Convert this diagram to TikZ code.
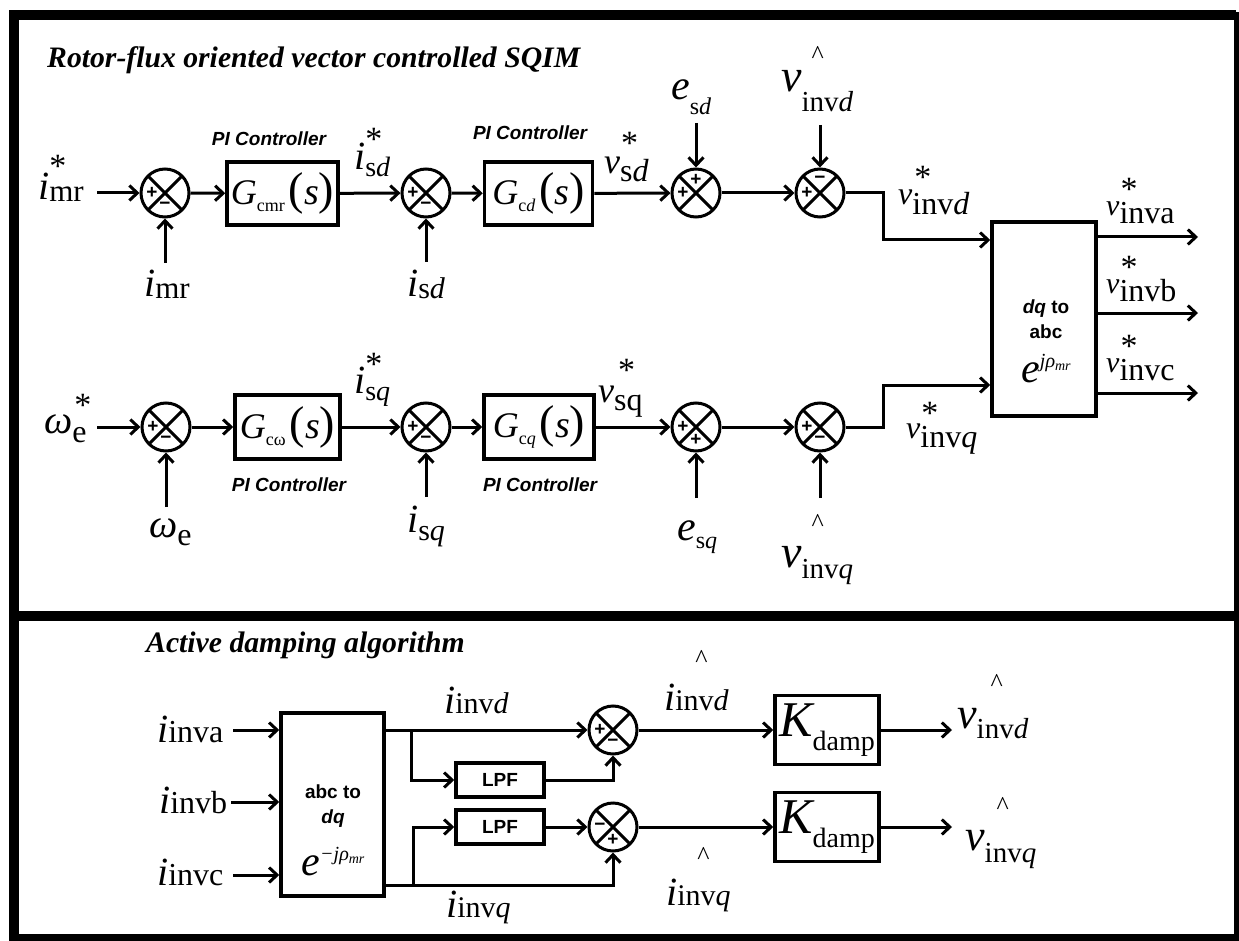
\documentclass[tikz,border=0pt]{standalone}
\usepackage{fontspec}
\setmainfont{Liberation Serif}
\newfontfamily\arialf{Liberation Sans}
\usetikzlibrary{arrows.meta,calc}
\newcommand\Sg[6]{{\fontsize{#1}{#1}\selectfont\itshape #2}#6\raisebox{-#5}{\fontsize{#3}{#3}\selectfont #4}}
\newcommand\OvMk[3]{\makebox[0pt][l]{\hspace*{#1}\raisebox{#2}{#3}}}
\newcommand\Astm{\fontsize{34}{34}\selectfont *}
\newcommand\Hatm{\fontsize{26}{26}\selectfont\textasciicircum}
\newcommand\Gs[1]{{\fontsize{36}{36}\selectfont\itshape G}\raisebox{-7pt}{\fontsize{18}{18}\selectfont #1}\hspace{4pt}{\fontsize{46}{46}\selectfont(}{\fontsize{38}{38}\selectfont\itshape s}{\fontsize{46}{46}\selectfont)}}
\newcommand\Expo[1]{{\fontsize{42}{42}\selectfont\itshape e}\raisebox{15pt}{\fontsize{20}{20}\selectfont\itshape #1ρ\raisebox{-3pt}{\fontsize{14}{14}\selectfont mr}}}
\newcommand\Kd{{\fontsize{50}{50}\selectfont\itshape K}\raisebox{-14pt}{\fontsize{28}{28}\selectfont damp}}
\begin{document}
\begin{tikzpicture}[x=1pt,y=-1pt,
  conn/.style={line width=3pt},
  arr/.style={line width=3pt,-{Straight Barb[length=8pt,width=15pt]}},
  sumj/.style={circle,draw,line width=3pt,minimum size=48pt,inner sep=0pt,
    path picture={\draw[line width=3pt] (path picture bounding box.north west)--(path picture bounding box.south east) (path picture bounding box.north east)--(path picture bounding box.south west);}},
  blk/.style={draw,line width=3.5pt,inner sep=0pt},
  sgn/.style={inner sep=0pt,font=\arialf\bfseries\fontsize{19}{19}\selectfont},
  pict/.style={inner sep=0pt,anchor=base,font=\arialf\bfseries\itshape\fontsize{19}{19}\selectfont},
  lab/.style={inner sep=0pt,anchor=base west},
  ttl/.style={inner sep=0pt,anchor=base west,font=\fontsize{29.7}{30}\selectfont\bfseries\itshape},
  frm/.style={line width=10pt}
]
\useasboundingbox (0,0) rectangle (1239,941);
% frame
\draw[frm] (14,941) -- (14,15) -- (1236,15);
\draw[line width=5pt] (1236,12) -- (1236,941);
\draw[line width=7pt] (10,937.5) -- (1239,937.5);
\draw[frm] (10,616) -- (1239,616);

% titles
\node[ttl] (t1) at (47,68) {Rotor-flux oriented vector controlled SQIM};
\node[ttl] (t2) at (146,652) {Active damping algorithm};

% d row
\node[sumj] (s1) at (165,193) {};
\node[blk,minimum width=111pt,minimum height=63pt] (b1) at (282.5,193.5) {\Gs{cmr}};
\node[sumj] (s2) at (426,193) {};
\node[blk,minimum width=108pt,minimum height=63pt] (b2) at (538.5,193.5) {\Gs{c\textit{d}}};
\node[sumj] (s3) at (696,193) {};
\node[sumj] (s4) at (820,193) {};
% q row
\node[sumj] (s5) at (166,427) {};
\node[blk,minimum width=105pt,minimum height=64pt] (b3) at (287.5,427) {\Gs{cω}};
\node[sumj] (s6) at (426,427) {};
\node[blk,minimum width=110pt,minimum height=64pt] (b4) at (539,427) {\Gs{c\textit{q}}};
\node[sumj] (s7) at (696,427) {};
\node[sumj] (s8) at (820,427) {};
% dq to abc
\node[blk,minimum width=104pt,minimum height=194pt] (dq) at (1044,319) {};
\node[inner sep=0pt,anchor=base] (dqt) at (1046,313) {\fontsize{19}{25}\selectfont\begin{tabular}[t]{@{}c@{}}\arialf\bfseries\textit{dq} to\\ \arialf\bfseries abc\\[9pt] \Expo{j}\end{tabular}};

% signs
\node[sgn] at ($(s1)+(-13,0)$) {+}; \node[sgn] at ($(s1)+(0,13)$) {−};
\node[sgn] at ($(s2)+(-13,0)$) {+}; \node[sgn] at ($(s2)+(0,13)$) {−};
\node[sgn] at ($(s3)+(-13,0)$) {+}; \node[sgn] at ($(s3)+(0,-13)$) {+};
\node[sgn] at ($(s4)+(-13,0)$) {+}; \node[sgn] at ($(s4)+(0,-13)$) {−};
\node[sgn] at ($(s5)+(-13,0)$) {+}; \node[sgn] at ($(s5)+(0,13)$) {−};
\node[sgn] at ($(s6)+(-13,0)$) {+}; \node[sgn] at ($(s6)+(0,13)$) {−};
\node[sgn] at ($(s7)+(-13,0)$) {+}; \node[sgn] at ($(s7)+(0,13)$) {+};
\node[sgn] at ($(s8)+(-13,0)$) {+}; \node[sgn] at ($(s8)+(0,13)$) {−};

% PI controller captions
\node[pict] (p1) at (269,146) {PI Controller};
\node[pict] (p2) at (530,140) {PI Controller};
\node[pict] (p3) at (289,491) {PI Controller};
\node[pict] (p4) at (540,491) {PI Controller};

% labels top
\node[lab] (Limrs) at (38,200) {\Sg{40}{i}{31}{mr}{2pt}{\OvMk{0pt}{22pt}{\Astm}}};
\node[lab] (Limr) at (144,296) {\Sg{40}{i}{31}{mr}{2pt}{}};
\node[lab] (Lisds) at (354,170) {\Sg{40}{i}{28}{s\textit{d}}{7pt}{\OvMk{0pt}{19pt}{\Astm}}};
\node[lab] (Lisd) at (407,296) {\Sg{40}{i}{30}{s\textit{d}}{2pt}{}};
\node[lab] (Lvsds) at (604,174) {\Sg{36}{v}{32}{s\textit{d}}{8pt}{\OvMk{1pt}{19pt}{\Astm}}};
\node[lab] (Lesd) at (671,100) {\Sg{42}{e}{24}{s\textit{d}}{15pt}{}};
\node[lab] (Lvhd) at (781,92) {\Sg{46}{v}{29}{inv\textit{d}}{20pt}{\OvMk{10pt}{28pt}{\Hatm}}};
\node[lab] (Lvids) at (898,205) {\Sg{32}{v}{32}{inv\textit{d}}{10pt}{\OvMk{2pt}{16pt}{\Astm}}};
\node[lab] (Lva) at (1106,216) {\Sg{30}{v}{32}{inva}{8pt}{\OvMk{1pt}{15pt}{\Astm}}};
\node[lab] (Lvb) at (1106,294) {\Sg{30}{v}{32}{invb}{8pt}{\OvMk{1pt}{15pt}{\Astm}}};
\node[lab] (Lvc) at (1106,372) {\Sg{30}{v}{32}{invc}{8pt}{\OvMk{1pt}{15pt}{\Astm}}};
\node[lab] (Lwes) at (44,433) {\Sg{40}{ω}{32}{e}{9pt}{\OvMk{2pt}{17pt}{\Astm}}};
\node[lab] (Lwe) at (149,537) {\Sg{40}{ω}{32}{e}{8pt}{}};
\node[lab] (Lisqs) at (354,393) {\Sg{40}{i}{28}{s\textit{q}}{7pt}{\OvMk{0pt}{18pt}{\Astm}}};
\node[lab] (Lisq) at (407,532) {\Sg{40}{i}{30}{s\textit{q}}{8pt}{}};
\node[lab] (Lvsqs) at (598,402) {\Sg{36}{v}{32}{sq}{8pt}{\OvMk{4pt}{21pt}{\Astm}}};
\node[lab] (Lesq) at (677,540) {\Sg{42}{e}{24}{s\textit{q}}{8pt}{}};
\node[lab] (Lvhq) at (781,567) {\Sg{46}{v}{29}{inv\textit{q}}{11pt}{\OvMk{10pt}{36pt}{\Hatm}}};
\node[lab] (Lviqs) at (906,438) {\Sg{32}{v}{32}{inv\textit{q}}{9pt}{\OvMk{1pt}{14pt}{\Astm}}};

% free ends top
\coordinate (c1) at (97,193);
\coordinate (c2) at (165,263);
\coordinate (c3) at (426,262);
\coordinate (c4) at (696,123);
\coordinate (c5) at (820,125);
\coordinate (k1) at (883,193);
\coordinate (in1) at (992,240);
\coordinate (c6) at (97,427);
\coordinate (c7) at (166,507);
\coordinate (c8) at (426,497);
\coordinate (c9) at (696,498);
\coordinate (c10) at (820,498);
\coordinate (k2) at (883,427);
\coordinate (in2) at (992,385);
\coordinate (o1) at (1198,237);
\coordinate (o2) at (1198,313);
\coordinate (o3) at (1198,393);

\draw[arr] (c1) -- (s1);
\draw[arr] (c2) -- (s1);
\draw[arr] (s1) -- (b1);
\draw[arr] (b1) -- (s2);
\draw[arr] (c3) -- (s2);
\draw[arr] (s2) -- (b2);
\draw[arr] (b2) -- (s3);
\draw[arr] (c4) -- (s3);
\draw[arr] (s3) -- (s4);
\draw[arr] (c5) -- (s4);
\draw[arr] (s4) -- (k1) |- (dq.west |- in1);
\draw[arr] (c6) -- (s5);
\draw[arr] (c7) -- (s5);
\draw[arr] (s5) -- (b3);
\draw[arr] (b3) -- (s6);
\draw[arr] (c8) -- (s6);
\draw[arr] (s6) -- (b4);
\draw[arr] (b4) -- (s7);
\draw[arr] (c9) -- (s7);
\draw[arr] (s7) -- (s8);
\draw[arr] (c10) -- (s8);
\draw[arr] (s8) -- (k2) |- (dq.west |- in2);
\draw[arr] (dq.east |- o1) -- (o1);
\draw[arr] (dq.east |- o2) -- (o2);
\draw[arr] (dq.east |- o3) -- (o3);

% bottom panel
\node[blk,minimum width=103pt,minimum height=183pt] (adq) at (332.5,804.5) {};
\node[inner sep=0pt,anchor=base] (adqt) at (333,798) {\fontsize{19}{25}\selectfont\begin{tabular}[t]{@{}c@{}}\arialf\bfseries abc to\\ \arialf\bfseries\itshape dq\\[17pt] \Expo{−j}\end{tabular}};
\node[blk,minimum width=88pt,minimum height=34pt,font=\arialf\bfseries\fontsize{19}{19}\selectfont] (lpf1) at (500,780) {LPF};
\node[blk,minimum width=88pt,minimum height=34pt,font=\arialf\bfseries\fontsize{19}{19}\selectfont] (lpf2) at (500,827) {LPF};
\node[sumj] (s9) at (613,730) {};
\node[sumj] (s10) at (613,827) {};
\node[sgn] at ($(s9)+(-13,0)$) {+}; \node[sgn] at ($(s9)+(0,13)$) {−};
\node[sgn] at ($(s10)+(-13,0)$) {−}; \node[sgn] at ($(s10)+(0,13)$) {+};
\node[blk,minimum width=104pt,minimum height=69pt] (kd1) at (827,730) {\Kd};
\node[blk,minimum width=104pt,minimum height=69pt] (kd2) at (827,827) {\Kd};

\node[lab] (Lia) at (157,742) {\Sg{40}{i}{32}{inva}{0pt}{}};
\node[lab] (Lib) at (159,813) {\Sg{40}{i}{32}{invb}{0pt}{}};
\node[lab] (Lic) at (157,885) {\Sg{40}{i}{32}{invc}{0pt}{}};
\node[lab] (Lid) at (444,713) {\Sg{40}{i}{30}{inv\textit{d}}{0pt}{}};
\node[lab] (Liq) at (446,917) {\Sg{40}{i}{30}{inv\textit{q}}{0pt}{}};
\node[lab] (Lihd) at (664,710) {\Sg{40}{i}{30}{inv\textit{d}}{0pt}{\OvMk{20pt}{43pt}{\Hatm}}};
\node[lab] (Lihq) at (666,905) {\Sg{40}{i}{30}{inv\textit{q}}{0pt}{\OvMk{20pt}{41pt}{\Hatm}}};
\node[lab] (Lvhd2) at (957,728) {\Sg{44}{v}{29}{inv\textit{d}}{10pt}{\OvMk{14pt}{37pt}{\Hatm}}};
\node[lab] (Lvhq2) at (965,850) {\Sg{44}{v}{29}{inv\textit{q}}{12pt}{\OvMk{12pt}{36pt}{\Hatm}}};

\coordinate (ia) at (233,730);
\coordinate (ib) at (231,802);
\coordinate (ic) at (233,875);
\coordinate (qo) at (384,885);
\coordinate (bd) at (411,730);
\coordinate (bq) at (413,885);
\coordinate (vo1) at (952,730);
\coordinate (vo2) at (952,827);

\draw[arr] (ia) -- (adq.west |- ia);
\draw[arr] (ib) -- (adq.west |- ib);
\draw[arr] (ic) -- (adq.west |- ic);
\draw[arr] (adq.east |- s9) -- (s9);
\draw[arr] (bd) |- (lpf1);
\draw[arr] (lpf1) -| (s9);
\draw[arr] (adq.east |- qo) -| (s10);
\draw[arr] (bq) |- (lpf2);
\draw[arr] (lpf2) -- (s10);
\draw[arr] (s9) -- (kd1);
\draw[arr] (s10) -- (kd2);
\draw[arr] (kd1) -- (vo1);
\draw[arr] (kd2) -- (vo2);
\end{tikzpicture}
\end{document}
